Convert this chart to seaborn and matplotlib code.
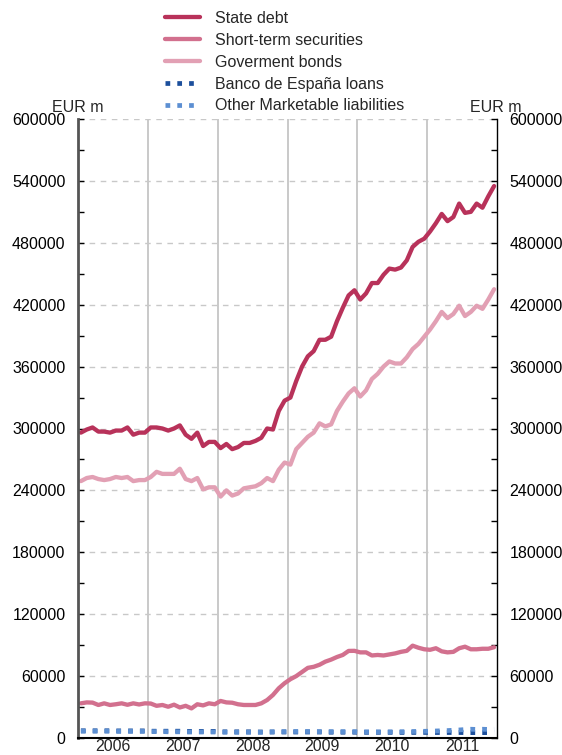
import matplotlib.pyplot as plt
from matplotlib.lines import Line2D
from matplotlib.ticker import MultipleLocator, FixedLocator, NullFormatter
import numpy as np
import pandas as pd
import seaborn as sns

# Monthly data, Jan 2006 - Dec 2011, EUR thousand millions (x1000 -> EUR m)
years = ['2006', '2007', '2008', '2009', '2010', '2011']

state_debt = [296, 299, 301, 297, 297, 296, 298, 298, 301, 294, 296, 296,
              301, 301, 300, 298, 300, 303, 294, 290, 296, 283, 287, 287,
              281, 285, 280, 282, 286, 286, 288, 291, 300, 299, 317, 327,
              330, 346, 360, 370, 375, 386, 386, 389, 404, 417, 429, 434,
              425, 431, 441, 441, 449, 455, 454, 456, 463, 476, 481, 484,
              491, 499, 508, 501, 505, 518, 509, 510, 518, 514, 525, 535]

short_term = [33.6, 34.5, 34.3, 32.0, 33.6, 32.0, 32.7, 33.6, 32.2, 33.6, 32.5, 33.6,
              33.4, 31.2, 32.0, 30.3, 32.3, 29.6, 31.2, 28.7, 32.7, 31.6, 33.6, 32.7,
              35.9, 34.5, 34.2, 32.7, 32.0, 32.0, 32.0, 33.6, 36.8, 41.7, 48.2, 53.1,
              57.0, 60.0, 64.0, 68.0, 69.0, 71.0, 74.0, 76.0, 78.5, 80.5, 84.4, 84.5,
              83.0, 83.0, 80.0, 80.5, 80.0, 81.0, 82.0, 83.5, 84.5, 89.5, 87.5, 86.0,
              85.5, 87.0, 84.0, 83.0, 83.5, 87.0, 88.5, 86.0, 86.0, 86.5, 86.5, 88.0]

gov_bonds = [249, 252, 253, 251, 250, 251, 253, 252, 253, 249, 250, 250,
             253, 258, 256, 256, 256, 261, 251, 249, 252, 241, 243, 243,
             234, 240, 235, 237, 242, 243, 244, 247, 252, 249, 260, 267,
             265, 280, 286, 292, 296, 305, 302, 304, 317, 326, 334, 339,
             331, 337, 348, 353, 360, 365, 363, 363, 369, 377, 382, 389,
             396, 404, 413, 407, 411, 419, 409, 413, 419, 416, 425, 435]

bde_loans = [7.0, 7.0, 7.0, 7.0, 7.0, 7.0, 6.9, 6.9, 6.9, 6.9, 6.9, 6.9,
             6.6, 6.6, 6.6, 6.6, 6.6, 6.6, 6.4, 6.4, 6.4, 6.4, 6.4, 6.4,
             6.0, 6.0, 6.0, 6.0, 6.0, 6.0, 5.8, 5.8, 5.8, 5.8, 5.8, 5.8,
             5.8, 5.8, 5.8, 5.8, 5.8, 5.8, 5.6, 5.6, 5.6, 5.6, 5.6, 5.6,
             5.5, 5.5, 5.5, 5.5, 5.5, 5.5, 5.4, 5.4, 5.4, 5.4, 5.4, 5.4,
             5.3, 5.3, 5.3, 5.3, 5.3, 5.3, 5.2, 5.2, 5.2, 5.2, 5.2, 5.2]

other_liab = [6.6, 6.6, 6.6, 6.6, 6.6, 6.6, 6.4, 6.4, 6.4, 6.4, 6.4, 6.4,
              6.2, 6.2, 6.2, 6.0, 6.0, 6.0, 5.8, 5.8, 5.8, 5.8, 5.8, 5.8,
              5.6, 5.6, 5.5, 5.5, 5.5, 5.5, 5.6, 5.6, 5.8, 6.0, 6.2, 6.2,
              6.3, 6.3, 6.3, 6.3, 6.2, 6.2, 6.2, 6.2, 6.2, 6.2, 6.2, 6.2,
              6.0, 6.0, 6.0, 6.0, 6.0, 6.0, 6.1, 6.1, 6.2, 6.3, 6.4, 6.5,
              6.6, 6.8, 7.0, 7.2, 7.5, 7.8, 8.2, 8.5, 8.3, 8.5, 8.3, 8.4]

names = ['State debt', 'Short-term securities', 'Goverment bonds',
         'Banco de España loans', 'Other Marketable liabilities']
series = [state_debt, short_term, gov_bonds, bde_loans, other_liab]
colors = {'State debt': '#B8325A', 'Short-term securities': '#D2708E',
          'Goverment bonds': '#E2A0B4', 'Banco de España loans': '#1C4F9C',
          'Other Marketable liabilities': '#5C8FD2'}
dashes = {'State debt': '', 'Short-term securities': '', 'Goverment bonds': '',
          'Banco de España loans': (1, 1.5), 'Other Marketable liabilities': (1, 1.5)}
widths = {'State debt': 3.1, 'Short-term securities': 3.1, 'Goverment bonds': 3.1,
          'Banco de España loans': 3.4, 'Other Marketable liabilities': 3.4}

month = np.arange(len(state_debt)) + 0.5
df = pd.concat([pd.DataFrame({'month': month, 'value': np.array(v) * 1000, 'series': n})
                for n, v in zip(names, series)], ignore_index=True)

sns.set_style('white')
plt.rcParams['font.family'] = ['Liberation Sans', 'DejaVu Sans']
fs = 11.5

fig = plt.figure(figsize=(5.62, 7.55), dpi=100)
ax = fig.add_axes([78 / 562, 1 - 738 / 755, (497 - 78) / 562, (738 - 119) / 755])

# blue series at the bottom, light blue drawn over dark blue
draw_order = ['Banco de España loans', 'Other Marketable liabilities',
              'Goverment bonds', 'Short-term securities', 'State debt']
for n in draw_order:
    sns.lineplot(data=df[df['series'] == n], x='month', y='value',
                 color=colors[n], linewidth=widths[n], sort=False, ax=ax,
                 dashes=False, linestyle='-' if dashes[n] == '' else (0, dashes[n]))

ax.set_xlim(0, 72)
ax.set_ylim(0, 600000)
ax.set_xlabel('')
ax.set_ylabel('')

# y axis: labels on both sides, ticks inward
ax.yaxis.set_major_locator(MultipleLocator(60000))
ax.yaxis.set_minor_locator(MultipleLocator(30000))
ax.tick_params(axis='y', which='both', direction='in', left=True, right=True,
               labelleft=True, labelright=True, labelsize=fs, pad=9, colors='black')
ax.tick_params(axis='y', which='major', length=4, width=1)
ax.tick_params(axis='y', which='minor', length=4, width=1)
ax.yaxis.grid(True, which='major', color='#c8c8c8', linestyle=(0, (4, 4)), linewidth=1)

# x axis: year boundaries as grid, year labels in the middle
ax.xaxis.set_major_locator(FixedLocator([12, 24, 36, 48, 60]))
ax.xaxis.set_major_formatter(NullFormatter())
ax.xaxis.set_minor_locator(FixedLocator([6, 18, 30, 42, 54, 66]))
ax.set_xticklabels(years, minor=True)
ax.tick_params(axis='x', which='major', length=0)
ax.tick_params(axis='x', which='minor', length=0, labelsize=fs, pad=1)
ax.xaxis.grid(True, which='major', color='#c0c0c0', linestyle='-', linewidth=1.2)
ax.set_axisbelow(True)

ax.spines['top'].set_visible(False)
ax.spines['left'].set_color('#555555')
ax.spines['left'].set_linewidth(2)
ax.spines['right'].set_color('black')
ax.spines['right'].set_linewidth(1)
ax.spines['bottom'].set_color('black')
ax.spines['bottom'].set_linewidth(1.5)

fig.text(103 / 562, 1 - 107 / 755, 'EUR m', ha='right', va='center', fontsize=fs)
fig.text(470 / 562, 1 - 107 / 755, 'EUR m', ha='left', va='center', fontsize=fs)

handles = [Line2D([], [], color=colors[n], linewidth=widths[n],
                  linestyle='-' if dashes[n] == '' else (0, dashes[n]))
           for n in names]
fig.legend(handles, names, loc='upper left', bbox_to_anchor=(165 / 562, 1 - 11 / 755),
           frameon=False, fontsize=fs, handlelength=2.2, handletextpad=0.95,
           labelspacing=0.43, borderpad=0, borderaxespad=0)

fig.savefig('out.png', dpi=100)
